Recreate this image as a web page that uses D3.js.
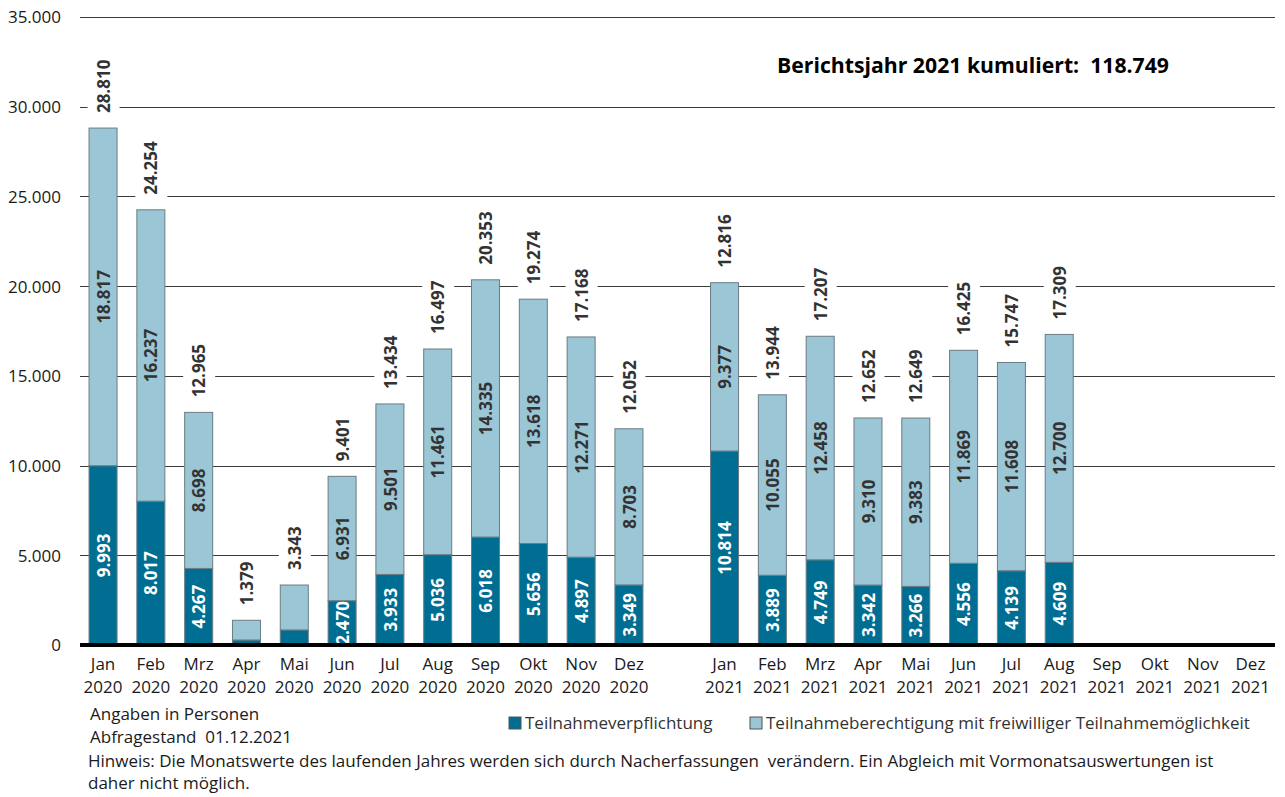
<!DOCTYPE html>
<html>
<head>
<meta charset="utf-8">
<script src="https://cdn.jsdelivr.net/npm/d3@7"></script>
<style>
  html, body { margin: 0; padding: 0; background: #fff; }
  svg { display: block; }
  text { font-family: "Open Sans", "Noto Sans", sans-serif; white-space: pre; }
</style>
</head>
<body>
<svg id="chart" width="1285" height="797"></svg>
<script>
// ---------- data ----------
const months = ["Jan","Feb","Mrz","Apr","Mai","Jun","Jul","Aug","Sep","Okt","Nov","Dez"];
const years = ["2020","2021"];
const pflicht2020 = [9993, 8017, 4267, 280, 840, 2470, 3933, 5036, 6018, 5656, 4897, 3349];
const berecht2020 = [18817, 16237, 8698, 1099, 2503, 6931, 9501, 11461, 14335, 13618, 12271, 8703];
const total2020   = [28810, 24254, 12965, 1379, 3343, 9401, 13434, 16497, 20353, 19274, 17168, 12052];
const pflicht2021 = [10814, 3889, 4749, 3342, 3266, 4556, 4139, 4609, null, null, null, null];
const berecht2021 = [9377, 10055, 12458, 9310, 9383, 11869, 11608, 12700, null, null, null, null];
const total2021   = [12816, 13944, 17207, 12652, 12649, 16425, 15747, 17309, null, null, null, null];
const unlabeledInner = ["Apr 2020", "Mai 2020"];
const yTicks = [0, 5000, 10000, 15000, 20000, 25000, 30000, 35000];
const seriesNames = ["Teilnahmeverpflichtung", "Teilnahmeberechtigung mit freiwilliger Teilnahmemöglichkeit"];
const titleText = "Berichtsjahr 2021 kumuliert:  118.749";
const notes = ["Angaben in Personen", "Abfragestand  01.12.2021",
  "Hinweis: Die Monatswerte des laufenden Jahres werden sich durch Nacherfassungen  verändern. Ein Abgleich mit Vormonatsauswertungen ist",
  "daher nicht möglich."];

// ---------- build rows ----------
const rows = [];
months.forEach((m, i) => rows.push({key: m + " 2020", month: m, year: "2020", p: pflicht2020[i], b: berecht2020[i], t: total2020[i]}));
rows.push({key: "gap", month: "", year: "", p: null, b: null, t: null});
months.forEach((m, i) => rows.push({key: m + " 2021", month: m, year: "2021", p: pflicht2021[i], b: berecht2021[i], t: total2021[i]}));

const loc = d3.formatLocale({decimal: ",", thousands: ".", grouping: [3], currency: ["", "€"]});
const fmt = loc.format(",d");

const DARK = "#006e93", LIGHT = "#9ac6d6", STROKE = "#6b7c83", TXT = "#1a1a1a", LBL = "#333333";

const svg = d3.select("#chart");
const x = d3.scaleBand().domain(rows.map(d => d.key)).range([79, 1274.5]).paddingInner(0.414).paddingOuter(0.21);
const y = d3.scaleLinear().domain([0, 35000]).range([645, 17]);

// grid
svg.append("g").selectAll("line").data(yTicks.filter(v => v > 0)).join("line")
  .attr("x1", 80).attr("x2", 1275)
  .attr("y1", d => Math.round(y(d)) + 0.5).attr("y2", d => Math.round(y(d)) + 0.5)
  .attr("stroke", "#3c3c3c").attr("stroke-width", 1);

// y axis labels
const yAxis = d3.axisLeft(y).tickValues(yTicks).tickFormat(fmt).tickSize(0).tickPadding(0);
const yg = svg.append("g").attr("transform", "translate(61,0)").call(yAxis);
yg.select(".domain").remove();
yg.selectAll("text").attr("font-size", 17).attr("fill", TXT).attr("font-family", '"Open Sans", sans-serif').attr("dy", "0.35em");

// bars
const data = rows.filter(d => d.p != null);
const bars = svg.append("g");
data.forEach(d => {
  const bx = x(d.key), bw = x.bandwidth();
  bars.append("rect").attr("x", bx).attr("width", bw)
    .attr("y", y(d.p)).attr("height", y(0) - y(d.p))
    .attr("fill", DARK).attr("stroke", STROKE).attr("stroke-width", 1);
  bars.append("rect").attr("x", bx).attr("width", bw)
    .attr("y", y(d.p + d.b)).attr("height", y(d.p) - y(d.p + d.b))
    .attr("fill", LIGHT).attr("stroke", STROKE).attr("stroke-width", 1);
});

// labels
const lg = svg.append("g");
data.forEach(d => {
  const cx = x(d.key) + x.bandwidth() / 2 + 0.5;
  if (!unlabeledInner.includes(d.key)) {
    const cyP = (y(0) + y(d.p)) / 2;
    lg.append("text").attr("transform", `translate(${cx},${cyP}) rotate(-90)`)
      .attr("text-anchor", "middle").attr("dy", "0.36em")
      .attr("font-size", 17).attr("font-weight", "bold").attr("fill", "#ffffff").text(fmt(d.p));
    const cyB = (y(d.p) + y(d.p + d.b)) / 2;
    lg.append("text").attr("transform", `translate(${cx},${cyB}) rotate(-90)`)
      .attr("text-anchor", "middle").attr("dy", "0.36em")
      .attr("font-size", 17).attr("font-weight", "bold").attr("fill", LBL).text(fmt(d.b));
  }
  const top = y(d.p + d.b) - 15;
  const bg = lg.append("rect");
  const t = lg.append("text").attr("transform", `translate(${cx},${top}) rotate(-90)`)
    .attr("text-anchor", "start").attr("dy", "0.36em")
    .attr("font-size", 17).attr("font-weight", "bold").attr("fill", LBL).text(fmt(d.t));
  const len = t.node().getComputedTextLength();
  bg.attr("x", cx - 16).attr("width", 32).attr("y", top - len - 3).attr("height", len + 6).attr("fill", "#fff");
});

// baseline
svg.append("line").attr("x1", 80).attr("x2", 1275).attr("y1", y(0)).attr("y2", y(0))
  .attr("stroke", "#000").attr("stroke-width", 4);

// x labels
const xg = svg.append("g");
rows.filter(d => d.key !== "gap").forEach(d => {
  const cx = x(d.key) + x.bandwidth() / 2;
  xg.append("text").attr("x", cx).attr("y", 670).attr("text-anchor", "middle")
    .attr("font-size", 17).attr("fill", TXT).text(d.month);
  xg.append("text").attr("x", cx).attr("y", 693).attr("text-anchor", "middle")
    .attr("font-size", 17).attr("fill", TXT).text(d.year);
});

// title
svg.append("text").attr("x", 777).attr("y", 73).attr("font-size", 22).attr("font-weight", "bold")
  .attr("fill", "#000").attr("textLength", 392).attr("lengthAdjust", "spacingAndGlyphs").text(titleText);

// legend
const legend = [{name: seriesNames[0], color: DARK, x: 509}, {name: seriesNames[1], color: LIGHT, x: 750}];
legend.forEach(l => {
  svg.append("rect").attr("x", l.x).attr("y", 717).attr("width", 12).attr("height", 12)
    .attr("fill", l.color).attr("stroke", "#555").attr("stroke-width", 1);
  svg.append("text").attr("x", l.x + 16).attr("y", 729).attr("font-size", 17).attr("fill", LBL).text(l.name);
});

// notes
const noteX = [90, 90, 88, 88], noteY = [720, 743, 767, 789];
notes.forEach((n, i) => {
  svg.append("text").attr("x", noteX[i]).attr("y", noteY[i]).attr("font-size", 17).attr("fill", TXT).text(n);
});
</script>
</body>
</html>
